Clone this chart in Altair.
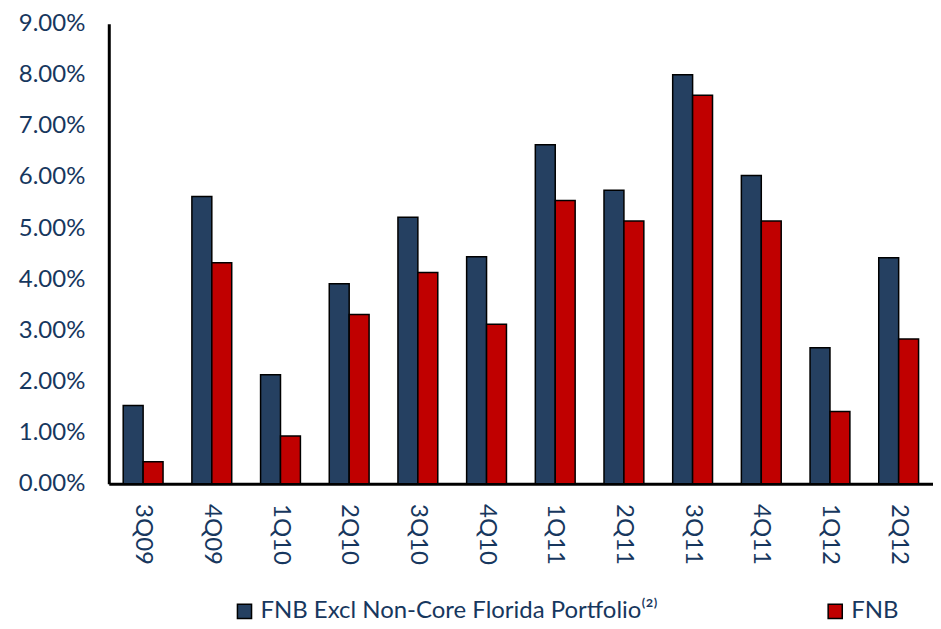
import altair as alt
import pandas as pd

quarters = ["3Q09", "4Q09", "1Q10", "2Q10", "3Q10", "4Q10",
            "1Q11", "2Q11", "3Q11", "4Q11", "1Q12", "2Q12"]
excl_florida = [1.53, 5.62, 2.13, 3.91, 5.21, 4.44, 6.63, 5.74, 8.00, 6.03, 2.66, 4.42]
fnb = [0.43, 4.32, 0.93, 3.31, 4.13, 3.12, 5.54, 5.14, 7.60, 5.14, 1.41, 2.83]
series_names = ["FNB Excl Non-Core Florida Portfolio\u207d\u00b2\u207e", "FNB"]
colors = ["#254061", "#C00000"]
y_ticks = [0.0, 0.01, 0.02, 0.03, 0.04, 0.05, 0.06, 0.07, 0.08, 0.09]

rows = []
for q, a, b in zip(quarters, excl_florida, fnb):
    rows.append({"quarter": q, "series": series_names[0], "value": a / 100})
    rows.append({"quarter": q, "series": series_names[1], "value": b / 100})
df = pd.DataFrame(rows)

text_color = "#17375E"
font = "Lato"

chart = alt.Chart(df).mark_bar(stroke="black", strokeWidth=1.5).encode(
    x=alt.X("quarter:N", sort=quarters,
            scale=alt.Scale(paddingInner=0.42, paddingOuter=0.21),
            axis=alt.Axis(title=None, labelAngle=90, labelPadding=20, ticks=False,
                          domainWidth=3, domainColor="black",
                          labelFontSize=24, labelColor=text_color, labelFont=font)),
    xOffset=alt.XOffset("series:N", sort=series_names,
                        scale=alt.Scale(paddingInner=0, paddingOuter=0)),
    y=alt.Y("value:Q", scale=alt.Scale(domain=[0, 0.09], nice=False),
            axis=alt.Axis(title=None, format=".2%", values=y_ticks, grid=False, ticks=False,
                          domainWidth=3, domainColor="black", labelPadding=24,
                          labelFontSize=24, labelColor=text_color, labelFont=font)),
    color=alt.Color("series:N", sort=series_names,
                    scale=alt.Scale(domain=series_names, range=colors),
                    legend=alt.Legend(title=None, orient="none", direction="horizontal",
                                      legendX=124, legendY=577,
                                      symbolType="square", symbolSize=200,
                                      symbolStrokeColor="black", symbolStrokeWidth=1.5,
                                      columnPadding=166, labelFontSize=24, labelLimit=0,
                                      labelColor=text_color, labelFont=font)),
).properties(
    width=826, height=461,
    padding={"left": 10, "top": 3, "right": 0, "bottom": 5},
).configure_view(stroke=None)

chart.save("out.html", embed_options={"renderer": "svg", "actions": False})
